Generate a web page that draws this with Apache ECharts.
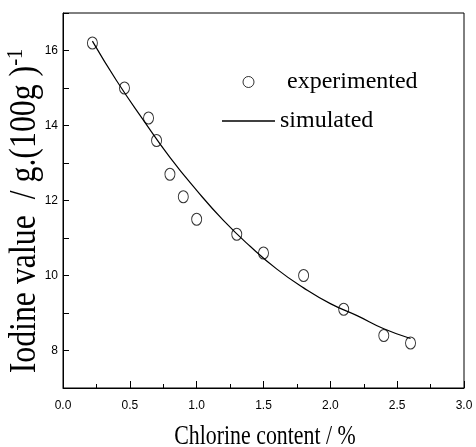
<!DOCTYPE html>
<html>
<head>
<meta charset="utf-8">
<script src="https://cdn.jsdelivr.net/npm/echarts@6/dist/echarts.min.js"></script>
<style>html,body{margin:0;padding:0;background:#fff}#c{width:476px;height:447px}</style>
</head>
<body>
<div id="c"></div>
<script>
// experimental points
const expX = [0.22, 0.46, 0.64, 0.70, 0.80, 0.90, 1.00, 1.30, 1.50, 1.80, 2.10, 2.40, 2.60];
const expY = [16.2, 15.0, 14.2, 13.6, 12.7, 12.1, 11.5, 11.1, 10.6, 10.0, 9.1, 8.4, 8.2];
// simulated curve
const simX = [0.22, 0.4, 0.6, 0.8, 1.0, 1.2, 1.4, 1.6, 1.8, 2.0, 2.2, 2.4, 2.6];
const simY = [16.25, 15.2, 14.15, 13.15, 12.27, 11.47, 10.78, 10.17, 9.67, 9.25, 8.93, 8.58, 8.32];
const seriesNames = ['experimented', 'simulated'];
const yLabels = [8, 10, 12, 14, 16];
const xTitle = 'Chlorine content / %';
const yTitleMain = 'Iodine value  / g.(100g )';
const yTitleSup = '-1';

const chart = echarts.init(document.getElementById('c'), null, {renderer: 'canvas'});
const serif = '"Liberation Serif", "Times New Roman", serif';
const sans = '"Liberation Sans", Arial, sans-serif';

chart.setOption({
  animation: false,
  backgroundColor: '#fff',
  grid: {left: 63, right: 12, top: 13, bottom: 59, show: true, borderColor: '#000', borderWidth: 1},
  xAxis: {
    type: 'value', min: 0, max: 3, interval: 0.5,
    axisLine: {lineStyle: {color: '#000', width: 1}},
    axisTick: {inside: true, length: 7, lineStyle: {color: '#000'}},
    minorTick: {show: true, splitNumber: 2, length: 4, lineStyle: {color: '#000'}},
    splitLine: {show: false},
    axisLabel: {color: '#000', fontFamily: sans, fontSize: 12, margin: 12, formatter: v => v.toFixed(1)}
  },
  yAxis: {
    type: 'value', min: 7, max: 17, interval: 1,
    axisLine: {lineStyle: {color: '#000', width: 1}},
    axisTick: {inside: true, length: 6, lineStyle: {color: '#000'}},
    splitLine: {show: false},
    axisLabel: {color: '#000', fontFamily: sans, fontSize: 12, margin: 5,
      formatter: v => yLabels.indexOf(v) >= 0 ? String(v) : ''}
  },
  legend: {
    orient: 'vertical', left: 222, top: 70, padding: 0,
    itemWidth: 53, itemHeight: 11, itemGap: 15, itemTextGap: 3,
    selectedMode: false,
    textStyle: {color: '#000', fontFamily: serif, fontSize: 24, lineHeight: 24,
      rich: {p: {fontFamily: serif, fontSize: 24, lineHeight: 24, padding: [0, 0, 0, 7]},
             q: {fontFamily: serif, fontSize: 24, lineHeight: 24}}},
    formatter: n => n === seriesNames[0] ? '{p|' + n + '}' : '{q|' + n + '}',
    data: [
      {name: seriesNames[0], icon: 'circle', itemStyle: {color: 'rgba(0,0,0,0)', borderColor: '#000', borderWidth: 1}},
      {name: seriesNames[1], icon: 'path://M0,0L53,0L53,1.3L0,1.3Z', itemStyle: {color: '#000', borderWidth: 0}}
    ]
  },
  series: [
    {
      name: seriesNames[0], type: 'scatter',
      symbol: 'circle', symbolSize: [10, 12],
      itemStyle: {color: 'rgba(0,0,0,0)', borderColor: '#000', borderWidth: 1},
      data: expX.map((x, i) => [x, expY[i]]), z: 3
    },
    {
      name: seriesNames[1], type: 'line', smooth: true, showSymbol: false, symbol: 'none',
      lineStyle: {color: '#000', width: 1.2}, itemStyle: {color: '#000'},
      data: simX.map((x, i) => [x, simY[i]]), z: 2
    }
  ],
  graphic: [
    {
      type: 'text', x: 265, y: 437, scaleX: 0.81,
      style: {text: xTitle, font: '27px ' + serif, fill: '#000', align: 'center', verticalAlign: 'middle'}
    },
    {
      type: 'text', x: 24, y: 211, rotation: Math.PI / 2, scaleX: 0.86,
      style: {
        text: '{m|' + yTitleMain + '}{s|' + yTitleSup + '}',
        align: 'center', verticalAlign: 'middle', fill: '#000',
        rich: {
          m: {fontFamily: serif, fontSize: 37, lineHeight: 40, fill: '#000', verticalAlign: 'bottom'},
          s: {fontFamily: serif, fontSize: 24, lineHeight: 24, fill: '#000', verticalAlign: 'top'}
        }
      }
    }
  ]
});
</script>
</body>
</html>
